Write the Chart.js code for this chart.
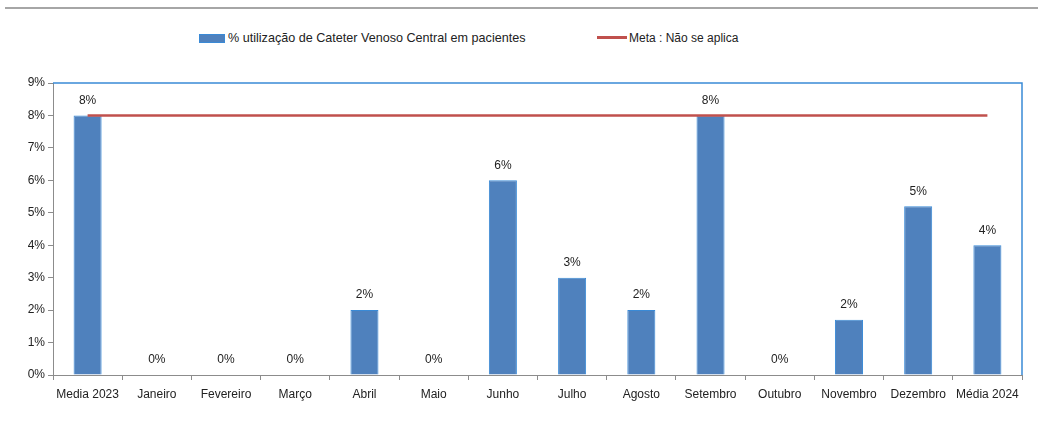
<!DOCTYPE html>
<html>
<head>
<meta charset="utf-8">
<script src="https://cdn.jsdelivr.net/npm/chart.js@4/dist/chart.umd.min.js"></script>
<style>
  html,body{margin:0;padding:0;background:#fff;}
  body{width:1038px;height:421px;position:relative;overflow:hidden;font-family:"Liberation Sans",Arial,sans-serif;}
  .topline{position:absolute;left:5px;right:0;top:7px;height:0;border-top:2px solid #a6a6a6;}
  .legend{position:absolute;top:31px;left:0;font-size:12px;color:#222;}
  .legend .item{position:absolute;white-space:nowrap;line-height:14px;}
  .legend .box{display:inline-block;width:26px;height:9px;background:#4f81bd;border:1px solid #3a8ad6;box-sizing:border-box;vertical-align:-1px;margin-right:3px;}
  .legend .ln{display:inline-block;width:30px;height:3px;background:#c0504d;vertical-align:3px;margin-right:2px;}
  #wrap{position:absolute;left:0;top:0;width:1038px;height:421px;}
</style>
</head>
<body>
<div class="topline"></div>
<div class="legend">
  <div class="item" style="left:199px;font-size:12.6px"><span class="box"></span>% utilização de Cateter Venoso Central em pacientes</div>
  <div class="item" style="left:597px"><span class="ln"></span>Meta : Não se aplica</div>
</div>
<div id="wrap"><canvas id="chart"></canvas></div>
<script>
const categories = ['Media 2023','Janeiro','Fevereiro','Março','Abril','Maio','Junho','Julho','Agosto','Setembro','Outubro','Novembro','Dezembro','Média 2024'];
const usage = [8, 0, 0, 0, 2, 0, 6, 3, 2, 8, 0, 1.7, 5.2, 4];
const meta = [8, 8, 8, 8, 8, 8, 8, 8, 8, 8, 8, 8, 8, 8];
const yTicks = [0, 1, 2, 3, 4, 5, 6, 7, 8, 9];

const tickFont = {family:'"Liberation Sans", Arial, sans-serif', size:12};

// value labels above each bar (bar dataset is index 1)
const barLabels = {
  id:'barLabels',
  afterDatasetsDraw(chart){
    const ctx = chart.ctx;
    const bars = chart.getDatasetMeta(1);
    ctx.save();
    ctx.font = '12px "Liberation Sans", Arial, sans-serif';
    ctx.fillStyle = '#222';
    ctx.textAlign = 'center';
    ctx.textBaseline = 'middle';
    bars.data.forEach((bar, i) => {
      ctx.fillText(Math.round(usage[i]) + '%', bar.x, bar.y - 15);
    });
    ctx.restore();
  }
};

// blue frame on top and right of the plot area
const frame = {
  id:'frame',
  beforeDatasetsDraw(chart){
    const {ctx, chartArea:a} = chart;
    ctx.save();
    ctx.strokeStyle = '#3a8ad6';
    ctx.lineWidth = 1.5;
    ctx.beginPath();
    ctx.moveTo(a.left, a.top);
    ctx.lineTo(a.right, a.top);
    ctx.lineTo(a.right, a.bottom);
    ctx.stroke();
    ctx.restore();
  }
};

new Chart(document.getElementById('chart'), {
  type:'bar',
  data:{
    labels:categories,
    datasets:[
      {label:'Meta : Não se aplica', type:'line', data:meta, borderColor:'#c0504d', borderWidth:2.5, pointRadius:0, fill:false, order:0},
      {label:'% utilização de Cateter Venoso Central em pacientes', data:usage, backgroundColor:'#4f81bd', borderColor:'#3a8ad6', borderWidth:1, barPercentage:0.405, categoryPercentage:1, order:1}
    ]
  },
  options:{
    responsive:true,
    maintainAspectRatio:false,
    animation:false,
    layout:{padding:{top:83, right:16, left:0, bottom:0}},
    plugins:{legend:{display:false}, tooltip:{enabled:false}},
    scales:{
      x:{
        grid:{display:true, drawOnChartArea:false, offset:true, color:'#8c8c8c', tickLength:5},
        border:{color:'#8c8c8c'},
        ticks:{color:'#222', font:tickFont, maxRotation:0, autoSkip:false, padding:7},
        afterFit(s){ s.height = 46; }
      },
      y:{
        min:0, max:9,
        afterBuildTicks(s){ s.ticks = yTicks.map(v => ({value:v})); },
        grid:{display:true, drawOnChartArea:false, color:'#8c8c8c', tickLength:5},
        border:{color:'#8c8c8c'},
        ticks:{color:'#222', font:tickFont, padding:3, callback:v => v + '%'},
        afterFit(s){ s.width = 53; }
      }
    }
  },
  plugins:[frame, barLabels]
});
</script>
</body>
</html>
